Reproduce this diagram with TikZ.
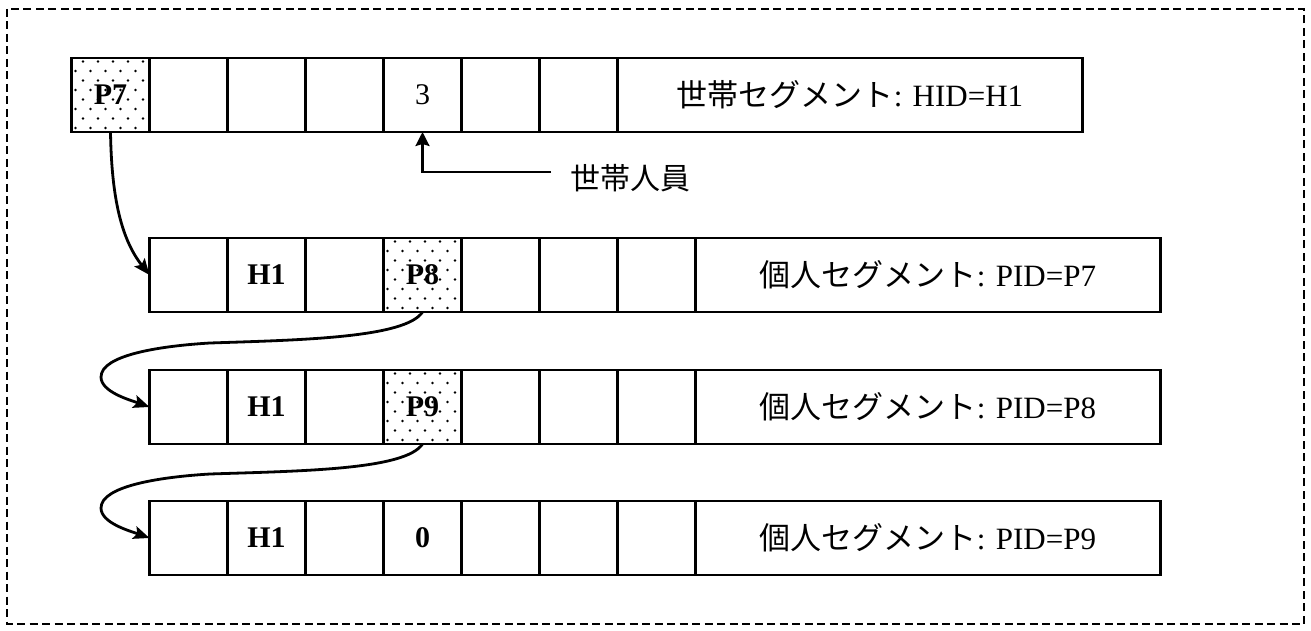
\documentclass[tikz,border=0pt]{standalone}
\usepackage{fontspec}
\setmainfont{Liberation Serif}
\newfontfamily\jp{Noto Sans CJK JP}
\usetikzlibrary{positioning,calc,arrows.meta}
\begin{document}
\begin{tikzpicture}[x=1pt,y=1pt,
  cell/.style={draw, line width=2.6pt, minimum width=78pt, minimum height=74pt, inner sep=0pt, outer sep=0pt, font=\fontsize{30}{30}\selectfont},
  lab/.style={cell, minimum width=465pt, font=\fontsize{31}{31}\selectfont},
  dotcell/.style={path picture={
    \foreach \j in {0,...,7}{
      \foreach \i in {0,...,5}{
        \pgfmathsetmacro\dx{\i*15+4+7.5*mod(\j,2)}
        \pgfmathsetmacro\dy{\j*9.5+4}
        \fill ($(path picture bounding box.south west)+(\dx,\dy)$) circle (1.3pt);
      }}}},
  link/.style={line width=2.8pt, -{Stealth[length=16pt,width=13pt,inset=3pt]}},
  pointer/.style={line width=2.4pt, -{Stealth[length=14pt,width=14pt,inset=2pt]}},
  frame/.style={line width=2.4pt, dash pattern=on 8pt off 4.5pt}
]
\useasboundingbox (0,0) rectangle (1311,630);
\draw[frame] (7,621) rectangle (1304,6);

% Row 1
\node[cell, dotcell, anchor=west] (r1c1) at (71.5,535) {\textbf{P7}};
\node[cell, right=0pt of r1c1] (r1c2) {};
\node[cell, right=0pt of r1c2] (r1c3) {};
\node[cell, right=0pt of r1c3] (r1c4) {};
\node[cell, right=0pt of r1c4] (r1c5) {3};
\node[cell, right=0pt of r1c5] (r1c6) {};
\node[cell, right=0pt of r1c6] (r1c7) {};
\node[lab, right=0pt of r1c7] (r1l) {{\jp 世帯セグメント}: HID=H1};

% Row 2
\node[cell, anchor=west] (r2c1) at (149.5,355) {};
\node[cell, right=0pt of r2c1] (r2c2) {\textbf{H1}};
\node[cell, right=0pt of r2c2] (r2c3) {};
\node[cell, dotcell, right=0pt of r2c3] (r2c4) {\textbf{P8}};
\node[cell, right=0pt of r2c4] (r2c5) {};
\node[cell, right=0pt of r2c5] (r2c6) {};
\node[cell, right=0pt of r2c6] (r2c7) {};
\node[lab, right=0pt of r2c7] (r2l) {{\jp 個人セグメント}: PID=P7};

% Row 3
\node[cell, anchor=west] (r3c1) at (149.5,223) {};
\node[cell, right=0pt of r3c1] (r3c2) {\textbf{H1}};
\node[cell, right=0pt of r3c2] (r3c3) {};
\node[cell, dotcell, right=0pt of r3c3] (r3c4) {\textbf{P9}};
\node[cell, right=0pt of r3c4] (r3c5) {};
\node[cell, right=0pt of r3c5] (r3c6) {};
\node[cell, right=0pt of r3c6] (r3c7) {};
\node[lab, right=0pt of r3c7] (r3l) {{\jp 個人セグメント}: PID=P8};

% Row 4
\node[cell, anchor=west] (r4c1) at (149.5,92) {};
\node[cell, right=0pt of r4c1] (r4c2) {\textbf{H1}};
\node[cell, right=0pt of r4c2] (r4c3) {};
\node[cell, right=0pt of r4c3] (r4c4) {\textbf{0}};
\node[cell, right=0pt of r4c4] (r4c5) {};
\node[cell, right=0pt of r4c5] (r4c6) {};
\node[cell, right=0pt of r4c6] (r4c7) {};
\node[lab, right=0pt of r4c7] (r4l) {{\jp 個人セグメント}: PID=P9};

% pointer label
\node[font=\fontsize{30}{30}\jp, anchor=west, inner sep=0pt] (kin) at (570,452) {世帯人員};
\coordinate (kk) at ($(kin.west)+(-19,6)$);
\draw[pointer] (kk) -| (r1c5.south);

% links
\draw[link] (r1c1.south) .. controls +(1,-60) and +(-30,38) .. (r2c1.west);
\draw[link] (r2c4.south) .. controls +(-17,-26) and ($(r3c1.west)+(150.5,67)$) .. ($(r3c1.west)+(60.5,64)$)
  .. controls +(-50,-3) and ($(r3c1.west)+(-48.5,52)$) .. ($(r3c1.west)+(-48.5,30)$)
  .. controls +(0,-15) and ($(r3c1.west)+(-19.5,7)$) .. (r3c1.west);
\draw[link] (r3c4.south) .. controls +(-17,-26) and ($(r4c1.west)+(150.5,67)$) .. ($(r4c1.west)+(60.5,64)$)
  .. controls +(-50,-3) and ($(r4c1.west)+(-48.5,52)$) .. ($(r4c1.west)+(-48.5,30)$)
  .. controls +(0,-15) and ($(r4c1.west)+(-19.5,7)$) .. (r4c1.west);
\end{tikzpicture}
\end{document}
